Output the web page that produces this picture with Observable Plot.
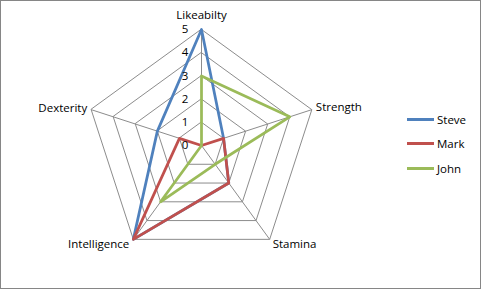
<!DOCTYPE html>
<html>
<head>
<meta charset="utf-8">
<script src="https://cdn.jsdelivr.net/npm/d3@7"></script>
<script src="https://cdn.jsdelivr.net/npm/@observablehq/plot@0.6"></script>
<style>
  html, body { margin: 0; padding: 0; background: #fff; }
  #wrap { position: relative; width: 481px; height: 289px; overflow: hidden; font-family: "Open Sans", sans-serif; }
  #wrap svg { position: absolute; left: 0; top: 0; }
  #border { position: absolute; left: 0; top: 0; width: 481px; height: 289px; box-sizing: border-box; border: 1px solid #868686; pointer-events: none; }
  #legend { position: absolute; left: 407px; top: 107px; font-size: 11.5px; color: #000; }
  #legend .row { display: flex; align-items: center; height: 24.5px; }
  #legend .sw { width: 27px; height: 3px; margin-right: 3px; }
</style>
</head>
<body>
<div id="wrap"><div id="border"></div><div id="legend"></div></div>
<script>
const axes = ["Likeabilty", "Strength", "Stamina", "Intelligence", "Dexterity"];
const seriesNames = ["Steve", "Mark", "John"];
const steve = [5, 1, 2, 5, 2];
const mark = [0, 1, 2, 5, 1];
const john = [3, 4, 1, 3, 0];
const tickValues = [0, 1, 2, 3, 4, 5];
const colors = ["#4F81BD", "#C0504D", "#9BBB59"];

const W = 481, H = 289;
const cx = 201, cy = 145, unit = 23.2;
const maxR = 5;

const angle = i => i * 2 * Math.PI / axes.length;
const px = (i, r) => r * Math.sin(angle(i));
const py = (i, r) => r * Math.cos(angle(i));

const seriesVals = [steve, mark, john];
const points = [];
seriesVals.forEach((vals, s) => {
  vals.forEach((v, i) => points.push({series: seriesNames[s], axis: axes[i], value: v, x: px(i, v), y: py(i, v)}));
});

const grid = [];
tickValues.filter(t => t > 0).forEach(t => {
  axes.forEach((a, i) => grid.push({level: t, x: px(i, t), y: py(i, t)}));
});
const spokes = axes.map((a, i) => ({axis: a, x1: 0, y1: 0, x2: px(i, maxR), y2: py(i, maxR)}));
const labels = axes.map((a, i) => ({axis: a, x: px(i, maxR), y: py(i, maxR)}));
const ticks = tickValues.map(t => ({t, x: 0, y: t}));

const font = {fontFamily: "Open Sans, sans-serif", fontSize: 11.5, fill: "#000"};

const chart = Plot.plot({
  width: W, height: H,
  marginTop: 0, marginRight: 0, marginBottom: 0, marginLeft: 0,
  x: {domain: [-cx / unit, (W - cx) / unit], range: [0, W], axis: null},
  y: {domain: [-(H - cy) / unit, cy / unit], range: [H, 0], axis: null},
  style: {background: "transparent", overflow: "visible"},
  marks: [
    Plot.link(spokes, {x1: "x1", y1: "y1", x2: "x2", y2: "y2", stroke: "#8c8c8c", strokeWidth: 1}),
    Plot.line(grid, {x: "x", y: "y", z: "level", curve: "linear-closed", stroke: "#8c8c8c", strokeWidth: 1}),
    ...seriesNames.map((s, k) => Plot.line(points.filter(d => d.series === s), {
      x: "x", y: "y", curve: "linear-closed", stroke: colors[k], strokeWidth: 2.75, strokeLinejoin: "round"
    })),
    Plot.text(ticks, {x: "x", y: "y", text: d => String(d.t), dx: -16.5, textAnchor: "middle", ...font}),
    Plot.text(labels.filter(d => d.axis === "Likeabilty"), {x: "x", y: "y", text: "axis", dy: -14, textAnchor: "middle", ...font}),
    Plot.text(labels.filter(d => d.axis === "Strength"), {x: "x", y: "y", text: "axis", dx: 4, dy: -2, textAnchor: "start", ...font}),
    Plot.text(labels.filter(d => d.axis === "Stamina"), {x: "x", y: "y", text: "axis", dx: 3, dy: 5, textAnchor: "start", ...font}),
    Plot.text(labels.filter(d => d.axis === "Intelligence"), {x: "x", y: "y", text: "axis", dx: -4, dy: 5, textAnchor: "end", ...font}),
    Plot.text(labels.filter(d => d.axis === "Dexterity"), {x: "x", y: "y", text: "axis", dx: -4, dy: -1, textAnchor: "end", ...font})
  ]
});

const wrap = document.getElementById("wrap");
wrap.insertBefore(chart, wrap.firstChild);

const legend = document.getElementById("legend");
seriesNames.forEach((s, k) => {
  const row = document.createElement("div");
  row.className = "row";
  const sw = document.createElement("div");
  sw.className = "sw";
  sw.style.background = colors[k];
  const tx = document.createElement("span");
  tx.textContent = s;
  row.appendChild(sw);
  row.appendChild(tx);
  legend.appendChild(row);
});
</script>
</body>
</html>
